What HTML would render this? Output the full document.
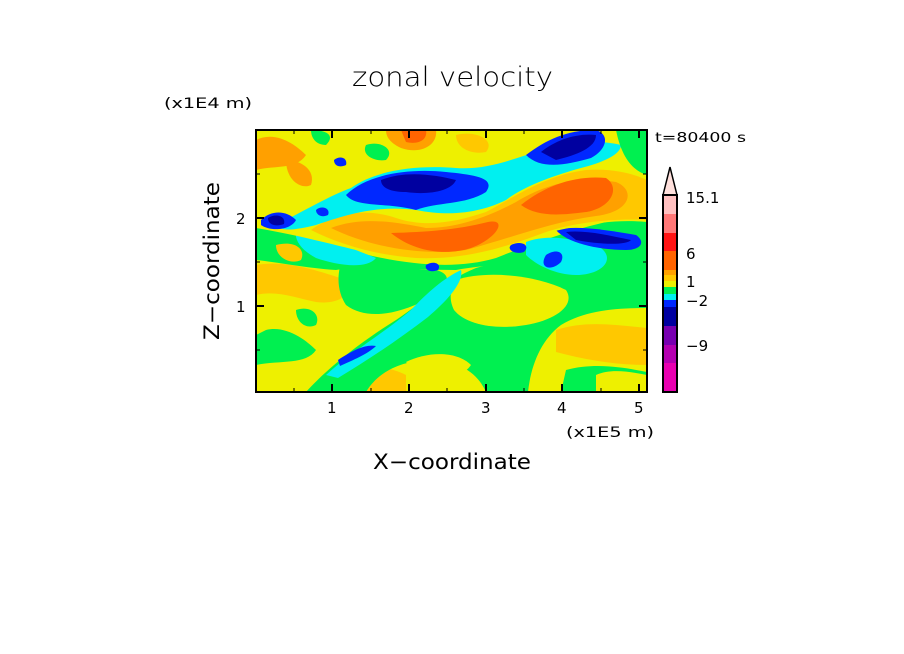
<!DOCTYPE html>
<html><head><style>html,body{margin:0;padding:0;background:#fff}svg{display:block}</style></head>
<body>
<svg width="904" height="654" viewBox="0 0 904 654" xmlns="http://www.w3.org/2000/svg" font-family="DejaVu Sans, Liberation Sans, sans-serif">
<rect width="904" height="654" fill="#fff"/>
<text x="352" y="86" font-size="27" font-weight="200" textLength="201" lengthAdjust="spacingAndGlyphs" fill="#000" font-family="DejaVu Sans, sans-serif" style="font-stretch:condensed">zonal velocity</text>
<text x="164" y="108" font-size="14" textLength="88" lengthAdjust="spacingAndGlyphs">(x1E4 m)</text>
<text x="655" y="142" font-size="13" textLength="91" lengthAdjust="spacingAndGlyphs">t=80400 s</text>
<text x="566" y="437" font-size="14" textLength="88" lengthAdjust="spacingAndGlyphs">(x1E5 m)</text>
<text x="373" y="469" font-size="21" textLength="158" lengthAdjust="spacingAndGlyphs">X−coordinate</text>
<text transform="translate(219,340) rotate(-90)" font-size="21" textLength="158" lengthAdjust="spacingAndGlyphs">Z−coordinate</text>
<defs><clipPath id="c"><rect x="0" y="0" width="391" height="262"/></clipPath></defs>
<g transform="translate(256,130)" clip-path="url(#c)">
<rect width="391" height="262" fill="#eef000"/>
<!-- lower left orange patches -->
<path d="M0,135 C30,130 60,140 90,150 C100,165 80,175 60,172 C40,168 20,160 0,165Z" fill="#ffc800"/>
<path d="M40,180 C55,175 65,185 60,195 C50,200 40,192 40,180Z" fill="#00f050"/>
<path d="M10,200 C30,195 50,210 60,220 C50,235 25,230 0,235 L0,205Z" fill="#00f050"/>
<path d="M80,240 C100,232 130,235 150,245 L150,262 L80,262Z" fill="#ffc800"/>
<!-- green diagonal band + middle -->
<path d="M50,262 C70,240 100,215 140,190 C170,170 190,150 220,138 C260,125 300,140 340,150 C370,155 391,158 391,158 L391,178 C360,178 330,180 305,195 C285,210 275,235 272,262 L230,262 C220,240 200,230 170,230 C140,232 120,245 110,262Z" fill="#00f050"/>
<path d="M90,120 C120,130 150,140 180,140 C200,145 190,160 170,170 C140,185 110,190 90,175 C80,160 80,140 90,120Z" fill="#00f050"/>
<path d="M200,150 C230,140 280,145 310,160 C320,175 300,190 270,195 C240,200 210,195 198,180 C192,168 195,158 200,150Z" fill="#eef000"/>
<path d="M150,232 C170,222 200,220 215,235 C205,250 180,248 160,245Z" fill="#eef000"/>
<!-- cyan diagonal band -->
<path d="M70,245 C95,222 125,205 155,180 C172,162 188,148 205,140 C208,152 192,170 172,187 C142,210 112,230 82,248Z" fill="#00f0f0"/>
<path d="M82,230 C97,220 110,214 120,216 C112,224 97,230 84,236Z" fill="#0028ff"/>
<!-- lower right -->
<path d="M300,200 C330,190 360,195 391,198 L391,235 C360,235 330,230 300,222Z" fill="#ffc800"/>
<path d="M310,240 C340,232 370,238 391,242 L391,262 L305,262Z" fill="#00f050"/>
<path d="M340,245 C355,238 375,242 391,245 L391,262 L340,262Z" fill="#eef000"/>
<!-- mid green under orange band -->
<path d="M0,95 C30,100 60,110 100,122 C150,135 200,140 240,128 C280,112 320,98 360,90 L391,90 L391,165 C360,160 330,150 300,140 C260,132 230,135 200,140 C150,140 110,135 80,140 C50,138 20,132 0,130Z" fill="#00f050"/>
<path d="M20,115 C40,110 50,120 45,130 C35,135 20,128 20,115Z" fill="#ffc800"/>
<path d="M270,112 C290,104 320,108 345,118 C360,130 345,145 320,145 C300,145 280,135 270,125Z" fill="#00f0f0"/>
<path d="M40,100 C70,108 100,120 120,128 C110,140 80,135 60,128 C45,120 38,110 40,100Z" fill="#00f0f0"/>
<path d="M300,100 C320,95 350,100 380,105 C390,112 385,120 370,120 C340,120 310,112 300,100Z" fill="#0028ff"/>
<path d="M310,102 C330,100 350,105 375,110 C370,116 340,114 320,110Z" fill="#0000a0"/>
<path d="M290,125 C300,118 310,122 305,132 C295,142 282,138 290,125Z" fill="#0028ff"/>
<path d="M255,115 C265,110 275,115 268,122 C260,125 250,120 255,115Z" fill="#0028ff"/>
<path d="M170,135 C178,130 186,134 182,140 C175,143 168,140 170,135Z" fill="#0028ff"/>
<!-- yellow band -->
<path d="M0,80 C40,80 70,70 110,80 C150,95 190,95 240,85 C280,70 320,55 360,50 L391,50 L391,92 C350,88 310,98 270,108 C230,125 190,132 140,128 C100,122 60,108 0,98Z" fill="#eef000"/>
<!-- orange band -->
<path d="M55,100 C80,82 110,78 140,88 C170,98 200,92 230,82 C260,66 290,45 330,40 C360,38 380,45 391,50 L391,90 C360,88 320,92 290,102 C250,117 210,130 160,128 C120,125 85,115 55,100Z" fill="#ffc800"/>
<path d="M75,98 C105,86 140,92 170,98 C200,98 230,88 260,72 C290,54 320,46 360,52 C380,60 375,82 340,86 C295,92 255,108 210,120 C170,126 115,118 75,98Z" fill="#ffa000"/>
<path d="M135,103 C170,102 200,100 232,92 C252,88 242,108 215,118 C190,126 158,122 135,103Z" fill="#ff6400"/>
<path d="M265,75 C290,55 320,45 350,48 C365,58 355,78 330,82 C300,86 280,86 265,75Z" fill="#ff6400"/>
<!-- upper blue band -->
<path d="M20,95 C50,80 75,65 95,58 C120,40 160,35 200,38 C230,40 255,30 285,20 C315,10 345,10 365,15 C365,25 345,33 325,38 C300,45 270,55 250,70 C230,80 200,88 160,80 C120,75 90,85 60,95 C40,100 25,102 20,95Z" fill="#00f0f0"/>
<path d="M90,65 C110,45 150,38 190,42 C220,45 240,48 230,62 C210,75 180,72 160,80 C130,72 100,78 90,65Z" fill="#0028ff"/>
<path d="M125,50 C150,40 180,45 200,50 C195,62 170,65 150,62 C135,62 125,58 125,50Z" fill="#0000a0"/>
<path d="M270,25 C290,10 310,0 340,0 C355,5 350,20 335,28 C310,35 285,40 270,25Z" fill="#0028ff"/>
<path d="M285,22 C300,10 320,3 340,5 C340,18 320,25 300,30Z" fill="#0000a0"/>
<path d="M5,90 C15,80 30,80 40,90 C35,100 15,102 5,95Z" fill="#0028ff"/>
<path d="M12,88 C20,83 30,86 28,94 C20,97 12,95 12,88Z" fill="#0000a0"/>
<path d="M60,80 C65,75 75,78 72,85 C66,88 60,85 60,80Z" fill="#0028ff"/>
<path d="M78,30 C84,25 92,28 90,35 C84,38 78,36 78,30Z" fill="#0028ff"/>
<!-- upper patches -->
<path d="M0,10 C20,0 40,15 50,25 C40,40 20,35 0,40Z" fill="#ffa000"/>
<path d="M30,30 C45,30 60,40 55,55 C45,60 30,50 30,30Z" fill="#ffa000"/>
<path d="M130,0 L180,0 C182,15 165,25 145,18 C132,12 130,5 130,0Z" fill="#ffa000"/>
<path d="M145,0 L170,0 C172,10 162,15 150,12Z" fill="#ff6400"/>
<path d="M200,5 C220,0 240,10 230,22 C215,25 200,18 200,5Z" fill="#ffc800"/>
<path d="M55,0 C70,0 80,5 70,15 C60,15 55,8 55,0Z" fill="#00f050"/>
<path d="M360,0 L391,0 L391,45 C375,40 365,25 360,0Z" fill="#00f050"/>
<path d="M110,15 C125,10 140,20 130,30 C118,32 105,25 110,15Z" fill="#00f050"/>
</g>
<rect x="256" y="130" width="391" height="262" fill="none" stroke="#000" stroke-width="2"/>
<g stroke="#000" stroke-width="2">
<path d="M332,392v-8M409,392v-8M486,392v-8M562,392v-8M639,392v-8M332,130v8M409,130v8M486,130v8M562,130v8M639,130v8"/>
<path d="M256,218h8M256,306h8M647,218h-8M647,306h-8"/>
</g>
<g stroke="#000" stroke-width="1">
<path d="M294,392v-4M371,392v-4M447,392v-4M524,392v-4M601,392v-4M294,130v4M371,130v4M447,130v4M524,130v4M601,130v4"/>
<path d="M256,174h4M256,262h4M256,350h4M647,174h-4M647,262h-4M647,350h-4"/>
</g>
<g font-size="15">
<text x="327" y="413">1</text><text x="404" y="413">2</text><text x="481" y="413">3</text><text x="557" y="413">4</text><text x="634" y="413">5</text>
<text x="236" y="224">2</text><text x="236" y="312">1</text>
</g>
<!-- colorbar -->
<path d="M663,195 L670,167 L677,195Z" fill="#ffe0dc" stroke="#000" stroke-width="1.5"/>
<rect x="663" y="195" width="14" height="19" fill="#ffc0c0"/>
<rect x="663" y="214" width="14" height="19" fill="#ff7878"/>
<rect x="663" y="233" width="14" height="18" fill="#ff1414"/>
<rect x="663" y="251" width="14" height="19" fill="#ff6400"/>
<rect x="663" y="270" width="14" height="5" fill="#ffa000"/>
<rect x="663" y="275" width="14" height="6" fill="#ffc800"/>
<rect x="663" y="281" width="14" height="6" fill="#eef000"/>
<rect x="663" y="287" width="14" height="7" fill="#00f050"/>
<rect x="663" y="294" width="14" height="6" fill="#00f0f0"/>
<rect x="663" y="300" width="14" height="7" fill="#0028ff"/>
<rect x="663" y="307" width="14" height="19" fill="#0000a0"/>
<rect x="663" y="326" width="14" height="19" fill="#7800b0"/>
<rect x="663" y="345" width="14" height="18" fill="#b400b0"/>
<rect x="663" y="363" width="14" height="29" fill="#e800b0"/>
<rect x="663" y="195" width="14" height="197" fill="none" stroke="#000" stroke-width="2"/>
<g font-size="15">
<text x="686" y="203">15.1</text><text x="686" y="259">6</text><text x="686" y="287">1</text><text x="686" y="306">−2</text><text x="686" y="351">−9</text>
</g>
</svg>
</body></html>
